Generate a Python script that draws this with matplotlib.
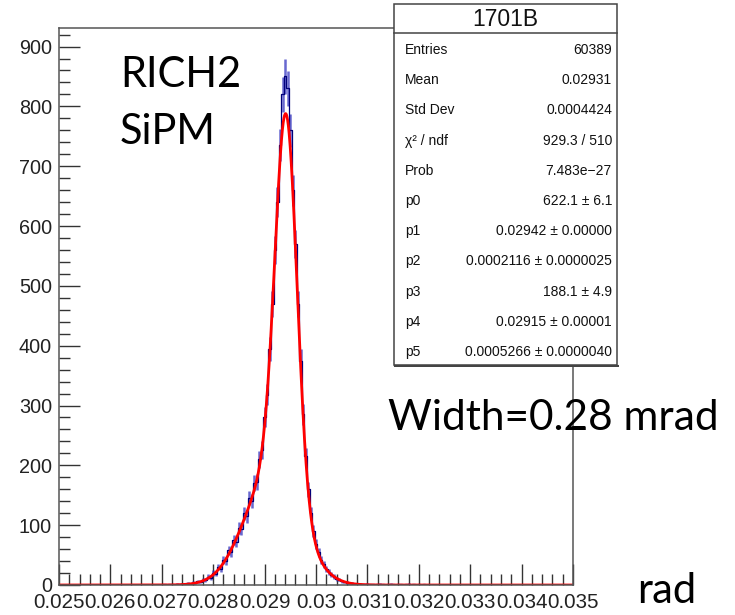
import numpy as np
import matplotlib
matplotlib.use('Agg')
import matplotlib.pyplot as plt
from matplotlib.ticker import MultipleLocator
from matplotlib.patches import Rectangle

plt.rcParams['font.family'] = 'Liberation Sans'

# histogram contents (counts per 1e-5 rad bin), every 5e-5 rad
bin_x = np.arange(0.02700, 0.03221, 0.00005)
counts = [0, 1, 0, 1, 1, 0, 2, 1, 2, 1,
          3, 2, 4, 3, 6, 5, 9, 8, 14, 12,
          20, 19, 30, 27, 42, 40, 58, 55, 75, 72,
          95, 93, 120, 115, 145, 140, 170, 172, 210, 225,
          280, 318, 395, 470, 560, 640, 735, 820, 850, 830,
          760, 660, 570, 470, 375, 285, 215, 160, 120, 90,
          68, 55, 42, 35, 27, 22, 17, 14, 10, 9,
          6, 5, 4, 3, 3, 2, 1, 2, 1, 1,
          2, 1, 1, 0, 1, 2, 1, 0, 1, 2,
          1, 0, 1, 1, 0, 1, 2, 0, 1, 0,
          1, 0, 1, 0, 0]
counts = np.array(counts[:len(bin_x)], dtype=float)

# double gaussian fit parameters from the stats box
p = [622.1, 0.02942, 0.0002116, 188.1, 0.02915, 0.0005266]

stats_labels = ['Entries', 'Mean', 'Std Dev', 'χ² / ndf', 'Prob',
                'p0', 'p1', 'p2', 'p3', 'p4', 'p5']
stats_values = ['60389', '0.02931', '0.0004424', '929.3 / 510', '7.483e\u221227',
                '622.1 ± 6.1', '0.02942 ± 0.00000', '0.0002116 ± 0.0000025',
                '188.1 ± 4.9', '0.02915 ± 0.00001', '0.0005266 ± 0.0000040']

W, H = 735, 615
fig = plt.figure(figsize=(7.35, 6.15), dpi=100)
ax = fig.add_axes([59 / W, (H - 585) / H, 514 / W, 557 / H])

# histogram: error bars plus thin step line
err = np.sqrt(counts)
ax.vlines(bin_x, counts - err, counts + err, color='#3535c0', linewidth=1.8, alpha=0.75)
ax.step(bin_x, counts, where='mid', color='#00007a', linewidth=0.9)

# fit curve
xf = np.linspace(0.025, 0.035, 2000)
yf = p[0] * np.exp(-0.5 * ((xf - p[1]) / p[2]) ** 2) + p[3] * np.exp(-0.5 * ((xf - p[4]) / p[5]) ** 2)
ax.plot(xf, yf, color='red', linewidth=2)

ax.set_xlim(0.025, 0.035)
ax.set_ylim(0, 931)
ax.xaxis.set_minor_locator(MultipleLocator(0.0002))
ax.yaxis.set_major_locator(MultipleLocator(100))
ax.yaxis.set_minor_locator(MultipleLocator(20))
xt = np.arange(0.025, 0.03501, 0.001)
ax.set_xticks(xt)
ax.set_xticklabels(['%g' % round(v, 3) for v in xt])
ax.tick_params(which='both', direction='in', colors='#333333', labelcolor='#222222')
ax.tick_params(which='major', length=15, width=1)
ax.tick_params(which='minor', length=8, width=1)
ax.tick_params(axis='x', pad=6, labelsize=14.8)
ax.tick_params(axis='y', pad=5, labelsize=14.3)
for s in ax.spines.values():
    s.set_color('#555555')
    s.set_linewidth(1.1)

# annotations
fig.text(120 / W, 1 - 87 / H, 'RICH2', family='Lato', fontsize=30, va='baseline')
fig.text(120 / W, 1 - 144 / H, 'SiPM', family='Lato', fontsize=30, va='baseline')
fig.text(388 / W, 1 - 430 / H, 'Width=0.28 mrad', family='Lato', fontsize=30.5, va='baseline')
fig.text(637 / W, 1 - 603 / H, 'rad', family='Lato', fontsize=30, va='baseline')

# stats box
bx = fig.add_axes([393 / W, (H - 367) / H, (619 - 393) / W, (367 - 3) / H])
bx.set_xlim(393, 619)
bx.set_ylim(367, 3)
bx.axis('off')
bx.add_patch(Rectangle((393.5, 4), 223, 361, facecolor='white', edgecolor='#444444', linewidth=1.1))
bx.plot([395, 618], [366, 366], color='#444444', linewidth=1.5)
bx.plot([393.5, 616.5], [33, 33], color='#444444', linewidth=1.1)
bx.text(505, 19, '1701B', ha='center', va='center', fontsize=16.5, color='#111111')
for i, (lab, val) in enumerate(zip(stats_labels, stats_values)):
    yy = 50 + 30.2 * i
    bx.text(405, yy, lab, ha='left', va='center', fontsize=10, color='#111111')
    bx.text(612, yy, val, ha='right', va='center', fontsize=10, color='#111111')

fig.savefig('out.png', dpi=100)
